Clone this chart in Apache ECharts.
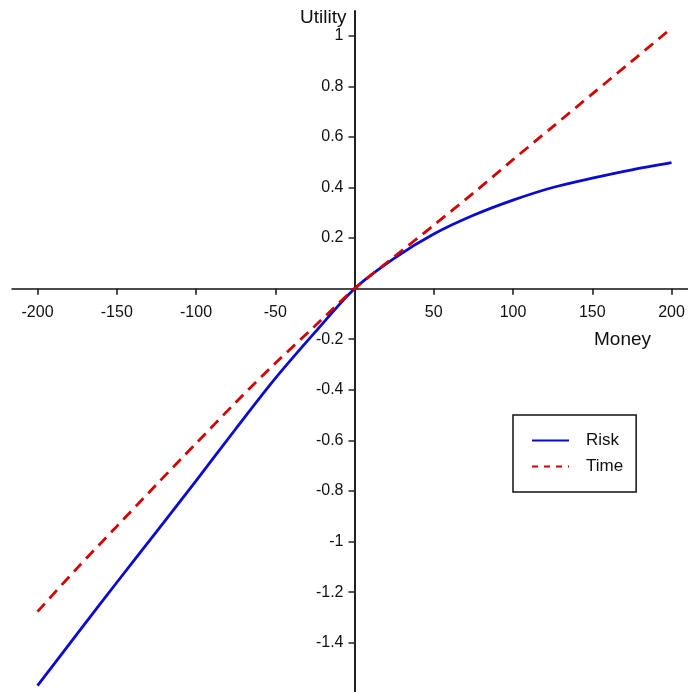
<!DOCTYPE html>
<html>
<head>
<meta charset="utf-8">
<script src="https://cdn.jsdelivr.net/npm/echarts@6/dist/echarts.min.js"></script>
<style>
html,body{margin:0;padding:0;background:#fff;}
#chart{width:688px;height:692px;}
</style>
</head>
<body>
<div id="chart"></div>
<script>
var money = [-200,-175,-150,-125,-100,-75,-50,-25,0,25,50,75,100,125,150,175,200];
var riskUtility = [-1.570,-1.365,-1.162,-0.962,-0.760,-0.555,-0.355,-0.173,0,0.120,0.216,0.290,0.350,0.400,0.437,0.470,0.498];
var timeUtility = [-1.277,-1.105,-0.940,-0.775,-0.612,-0.450,-0.295,-0.148,0,0.126,0.251,0.378,0.510,0.640,0.770,0.900,1.030];
var xTicks = [-200,-150,-100,-50,50,100,150,200];
var yTicks = [-1.4,-1.2,-1,-0.8,-0.6,-0.4,-0.2,0.2,0.4,0.6,0.8,1];

function pairs(xs, ys){ return xs.map(function(x,i){ return [x, ys[i]]; }); }

var W = 688, H = 692;
var gLeft = 12, gRight = 0, gTop = 11, gBottom = 0;
var xMin = -216.1, xMax = 210.4, yMin = -1.595, yMax = 1.098;
// offsets that put each axis where the other axis has value 0
var gridW = W - gLeft - gRight, gridH = H - gTop - gBottom;
var xZeroPx = gLeft + (0 - xMin) / (xMax - xMin) * gridW;
var yZeroPx = gTop + (yMax - 0) / (yMax - yMin) * gridH;
var xAxisOffset = -((H - gBottom) - yZeroPx);
var yAxisOffset = -(xZeroPx - gLeft);

var chart = echarts.init(document.getElementById('chart'), null, {renderer:'canvas'});
var font = '"Liberation Sans", Arial, sans-serif';
chart.setOption({
  animation: false,
  backgroundColor: '#ffffff',
  textStyle: {fontFamily: font},
  title: {
    text: 'Money', left: 594, top: 330, padding: 0,
    textStyle: {fontFamily: font, fontSize: 19, fontWeight: 'normal', color: '#111'}
  },
  grid: {left: gLeft, right: gRight, top: gTop, bottom: gBottom, containLabel: false, outerBoundsMode: 'none'},
  legend: {
    orient: 'vertical',
    left: 513, top: 415,
    padding: [17, 13, 17, 18],
    itemWidth: 37, itemHeight: 14, itemGap: 9,
    borderColor: '#111', borderWidth: 1.5, borderRadius: 0,
    backgroundColor: '#fff',
    itemStyle: {opacity: 0},
    textStyle: {fontFamily: font, fontSize: 17, color: '#111', padding: [0,0,0,12]},
    data: [
      {name: 'Risk'},
      {name: 'Time', lineStyle: {type: [6, 6]}}
    ]
  },
  xAxis: {
    type: 'value',
    position: 'bottom',
    offset: xAxisOffset,
    min: xMin, max: xMax,
    splitLine: {show: false},
    axisLine: {onZero: false, lineStyle: {color: '#111', width: 1.5}},
    axisTick: {show: true, length: 6, customValues: xTicks, lineStyle: {color: '#111', width: 1.5}},
    axisLabel: {show: true, customValues: xTicks, margin: 16, fontFamily: font, fontSize: 16, color: '#111', hideOverlap: false}
  },
  yAxis: {
    type: 'value',
    position: 'left',
    offset: yAxisOffset,
    min: yMin, max: yMax,
    name: 'Utility',
    nameLocation: 'end',
    nameGap: -7,
    nameTextStyle: {fontFamily: font, fontSize: 19, color: '#111', align: 'right', verticalAlign: 'middle', padding: [0,8,0,0]},
    splitLine: {show: false},
    axisLine: {onZero: false, lineStyle: {color: '#222', width: 2}},
    axisTick: {show: true, length: 6, customValues: yTicks, lineStyle: {color: '#222', width: 1.5}},
    axisLabel: {show: true, customValues: yTicks, margin: 11, padding: [5,0,0,0], fontFamily: font, fontSize: 16, color: '#111', hideOverlap: false}
  },
  series: [
    {
      name: 'Risk', type: 'line', symbol: 'none', smooth: 0.3, clip: false,
      lineStyle: {color: '#0a0ad0', width: 2.8},
      itemStyle: {color: '#0a0ad0'},
      data: pairs(money, riskUtility), z: 3
    },
    {
      name: 'Time', type: 'line', symbol: 'none', smooth: 0.3, clip: false,
      lineStyle: {color: '#d40000', width: 2.8, type: [11, 7]},
      itemStyle: {color: '#d40000'},
      data: pairs(money, timeUtility), z: 4
    }
  ]
});
</script>
</body>
</html>
